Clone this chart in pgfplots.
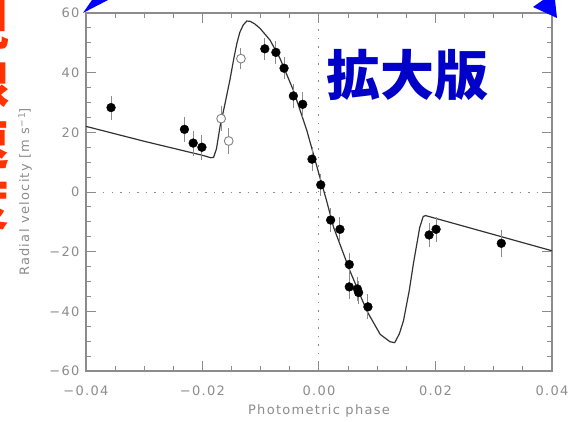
\documentclass[border=0pt]{standalone}
\usepackage{pgfplots}
\pgfplotsset{compat=1.18}
\usepackage{fontspec}
\setmainfont{DejaVu Sans}
\newfontfamily\tickfont[LetterSpace=10]{DejaVu Sans}
\newfontfamily\cjk{Noto Sans CJK JP}
\definecolor{axgray}{gray}{0.55}
\definecolor{kblue}{RGB}{0,0,200}
\definecolor{arrblue}{RGB}{0,0,255}
\definecolor{kred}{RGB}{255,50,0}

\pgfplotstableread{
x y e
-0.0357 28.3 4.0
-0.0231 21.0 4.2
-0.0216 16.4 4.2
-0.0201 15.0 4.2
-0.0093 48.0 3.6
-0.0074 46.8 3.8
-0.0060 41.5 3.6
-0.0044 32.2 4.0
-0.0028 29.4 4.2
-0.0012 11.0 4.0
0.0003 2.4 3.8
0.0020 -9.4 4.0
0.0036 -12.5 4.2
0.0052 -24.3 4.0
0.0052 -31.8 4.2
0.0066 -32.5 4.0
0.0068 -33.7 4.0
0.0084 -38.5 4.2
0.0189 -14.4 4.0
0.0201 -12.5 4.2
0.0313 -17.2 4.5
}\filled

\pgfplotstableread{
x y e
-0.0168 24.6 4.2
-0.0155 17.1 4.2
-0.0134 44.7 3.6
}\open

\pgfplotstableread{
x y
-0.0400 22.0
-0.0300 17.0
-0.0200 12.3
-0.0186 11.5
-0.0181 11.6
-0.0176 14.5
-0.0170 21.8
-0.0162 29.0
-0.0153 37.5
-0.0146 45.0
-0.0141 49.8
-0.0136 53.5
-0.0130 56.0
-0.0124 57.3
-0.0118 57.2
-0.0110 56.3
-0.0101 54.8
-0.0084 50.9
-0.0067 44.8
-0.0044 34.1
-0.0021 20.7
0.0000 6.0
0.0013 -2.9
0.0025 -11.8
0.0053 -26.4
0.0082 -39.8
0.0105 -47.7
0.0122 -50.2
0.0130 -50.5
0.0138 -47.5
0.0145 -43.2
0.0155 -33.0
0.0162 -24.1
0.0173 -11.8
0.0179 -8.2
0.0183 -7.9
0.0400 -19.7
}\model

\begin{document}
\begin{tikzpicture}[x=1pt,y=1pt]
\useasboundingbox (0,0) rectangle (571,421);
\clip (0,0) rectangle (571,421);
\begin{axis}[
  at={(86pt,50pt)}, anchor=south west,
  scale only axis, width=466pt, height=358pt,
  xmin=-0.04, xmax=0.04, ymin=-60, ymax=60,
  scaled x ticks=false, scaled y ticks=false,
  xtick={-0.04,-0.02,0,0.02,0.04},
  xticklabels={−0.04,−0.02,0.00,0.02,0.04},
  ytick={-60,-40,-20,0,20,40,60},
  yticklabels={−60,−40,−20,0,20,40,60},
  minor x tick num=3, minor y tick num=3,
  major tick length=10pt, minor tick length=5pt,
  tick align=inside,
  axis line style={axgray, line width=1.2pt},
  every tick/.style={axgray, line width=1pt},
  tick label style={font=\tickfont\fontsize{13}{15}\selectfont, text=axgray},
  xticklabel style={yshift=-11pt},
  yticklabel style={xshift=-3pt},
  xlabel={Photometric phase},
  ylabel={Radial velocity [m s\raisebox{0.6ex}{\fontsize{9}{9}\selectfont −1}]},
  label style={font=\tickfont\fontsize{13}{15}\selectfont, text=axgray},
  xlabel style={at={(axis description cs:0.5,-0.112)}, anchor=center},
  ylabel style={at={(axis description cs:-0.131,0.5)}, anchor=center},
  clip=false,
]
\addplot[axgray, line width=1pt, dash pattern=on 1.5pt off 7pt] coordinates {(0,-60) (0,60)};
\addplot[axgray, line width=1pt, dash pattern=on 1.5pt off 7pt] coordinates {(-0.04,0) (0.04,0)};
\addplot[black!80, line width=1.2pt] table[x=x,y=y] {\model};
\addplot[only marks, mark=*, mark size=4.4pt, black,
  error bars/.cd, y dir=both, y explicit, error mark=none,
  error bar style={black!45, line width=1pt}]
  table[x=x, y=y, y error=e] {\filled};
\addplot[only marks, mark=*, mark size=4.4pt, draw=black!50, fill=white, line width=0.9pt,
  error bars/.cd, y dir=both, y explicit, error mark=none,
  error bar style={black!45, line width=1pt}]
  table[x=x, y=y, y error=e] {\open};
\end{axis}
\fill[arrblue] (83,408) -- (92,421) -- (108,421) -- cycle;
\fill[arrblue] (533,414) -- (543,421) -- (555,421) -- (557,403) -- cycle;
\node[text=kblue, font=\cjk\bfseries\fontsize{54}{60}\selectfont] at (407,346) {拡大版};
\node[text=kred, font=\cjk\bfseries\fontsize{55}{60}\selectfont, align=center, anchor=north, inner sep=0pt] at (-18,424) {視\\線\\速\\度};
\end{tikzpicture}
\end{document}
